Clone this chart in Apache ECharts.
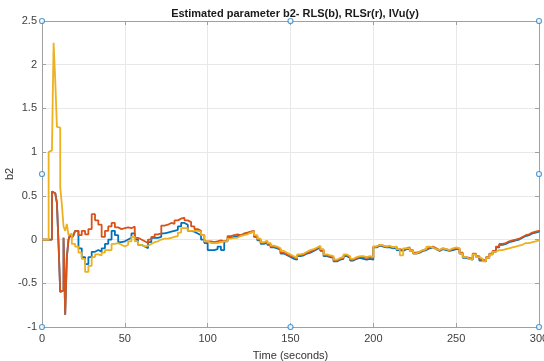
<!DOCTYPE html>
<html>
<head>
<meta charset="utf-8">
<script src="https://cdn.jsdelivr.net/npm/echarts@6/dist/echarts.min.js"></script>
<style>html,body{margin:0;padding:0;background:#fff;}#c{width:544px;height:361px;}</style>
</head>
<body>
<div id="c"></div>
<script>
const titleText = 'Estimated parameter b2- RLS(b), RLSr(r), IVu(y)';
const xName = 'Time (seconds)';
const yName = 'b2';
const xTicks = [0, 50, 100, 150, 200, 250, 300];
const yTicks = [-1, -0.5, 0, 0.5, 1, 1.5, 2, 2.5];

const times = [0,1,2,3,4,5,6,7,8,9,10,11,12,13,14,15,16,17,18,19,20,
22,24,26,28,30,32,34,36,38,40,42,44,46,48,50,52,54,56,58,60,62,64,66,68,70,72,74,76,78,80,
82,84,86,88,90,92,94,96,98,100,102,104,106,108,110,112,114,116,118,120,122,124,126,128,130,
132,134,136,138,140,142,144,146,148,150,152,154,156,158,160,162,164,166,168,170,172,174,176,178,180,
182,184,186,188,190,192,194,196,198,200,202,204,206,208,210,212,214,216,218,220,222,224,226,228,230,
232,234,236,238,240,242,244,246,248,250,252,254,256,258,260,262,264,266,268,270,272,274,276,278,280,
282,284,286,288,290,292,294,296,298,300];

const rls = [0,0,0,0,0,0,0.55,0.53,0.52,0.42,-0.06,-0.6,-0.58,0.02,-0.86,-0.2,0.0,0.06,0.02,0.05,0.1,
-0.1,-0.2,-0.28,-0.2,-0.14,-0.12,-0.14,-0.1,-0.05,0.0,0.1,0.05,-0.03,-0.02,0.0,0.02,0.07,0.0,-0.06,-0.08,
-0.1,-0.03,0.02,0.02,0.03,0.07,0.08,0.09,0.1,0.11,
0.15,0.19,0.17,0.1,0.09,0.07,0.05,0.0,-0.04,-0.12,-0.12,-0.11,-0.08,-0.12,-0.02,0.02,0.03,0.04,0.05,0.06,
0.07,0.08,0.09,0.03,-0.01,
-0.05,-0.03,-0.06,-0.09,-0.1,-0.12,-0.16,-0.18,-0.2,-0.22,-0.23,-0.19,-0.18,-0.16,-0.15,-0.13,-0.11,-0.09,-0.13,-0.19,
-0.2,-0.21,-0.25,-0.23,-0.22,
-0.19,-0.21,-0.24,-0.22,-0.21,-0.22,-0.23,-0.22,-0.23,-0.09,-0.07,-0.08,-0.09,-0.09,-0.1,-0.09,-0.12,-0.13,-0.11,-0.1,
-0.13,-0.16,-0.15,-0.13,-0.12,
-0.1,-0.09,-0.11,-0.13,-0.11,-0.12,-0.13,-0.12,-0.11,-0.11,-0.16,-0.21,-0.22,-0.23,-0.17,-0.2,-0.24,-0.25,-0.21,-0.17,
-0.14,-0.09,-0.06,-0.05,-0.03,
-0.02,-0.01,0.0,0.02,0.04,0.05,0.07,0.08,0.09,0.1];

const rlsr = [0,0,0,0,0,0,0.55,0.53,0.52,0.42,-0.06,-0.6,-0.58,0.02,-0.86,-0.2,0.0,0.06,0.02,0.05,0.1,
0.05,0.1,0.06,0.12,0.29,0.22,0.17,0.03,0.1,0.15,0.19,0.14,0.12,0.13,0.14,0.13,0.15,0.02,0.0,-0.02,
-0.04,0.0,0.03,0.06,0.07,0.16,0.17,0.19,0.18,0.22,
0.24,0.25,0.22,0.2,0.15,0.12,0.1,0.05,-0.02,-0.02,-0.03,-0.02,-0.01,-0.02,-0.01,0.04,0.05,0.06,0.05,0.07,
0.08,0.09,0.1,0.04,0.0,
-0.04,-0.02,-0.05,-0.08,-0.09,-0.11,-0.15,-0.17,-0.19,-0.2,-0.22,-0.18,-0.17,-0.15,-0.14,-0.12,-0.1,-0.08,-0.12,-0.18,
-0.19,-0.2,-0.24,-0.22,-0.21,
-0.18,-0.2,-0.23,-0.21,-0.2,-0.2,-0.21,-0.2,-0.21,-0.08,-0.06,-0.07,-0.08,-0.08,-0.09,-0.08,-0.11,-0.12,-0.1,-0.09,
-0.12,-0.15,-0.14,-0.12,-0.11,
-0.09,-0.08,-0.1,-0.12,-0.1,-0.11,-0.12,-0.11,-0.1,-0.1,-0.15,-0.2,-0.21,-0.22,-0.16,-0.19,-0.23,-0.24,-0.2,-0.16,
-0.13,-0.08,-0.05,-0.04,-0.02,
-0.01,0.0,0.01,0.03,0.05,0.06,0.08,0.09,0.1,0.11];

const ivu = [0,0,0,0,1.0,1.02,1.03,2.25,1.82,1.29,1.28,0.6,0.4,0.15,0.1,0.18,0.05,0.07,-0.05,-0.05,-0.08,
-0.15,-0.22,-0.37,-0.3,-0.2,-0.17,-0.18,-0.15,-0.12,-0.12,-0.05,-0.04,-0.06,-0.08,-0.06,-0.02,0.03,-0.02,-0.06,-0.08,
-0.07,-0.05,-0.03,-0.02,0.0,0.01,0.01,0.02,0.03,0.04,
0.08,0.13,0.13,0.1,0.1,0.1,0.09,0.05,-0.02,-0.04,-0.04,-0.04,-0.03,-0.02,-0.02,0.01,0.02,0.02,0.04,0.05,
0.06,0.08,0.09,0.05,0.01,
-0.03,-0.01,-0.04,-0.07,-0.08,-0.1,-0.13,-0.15,-0.17,-0.19,-0.21,-0.17,-0.16,-0.14,-0.12,-0.11,-0.09,-0.07,-0.11,-0.17,
-0.18,-0.19,-0.23,-0.21,-0.2,
-0.17,-0.19,-0.22,-0.2,-0.19,-0.19,-0.2,-0.19,-0.2,-0.08,-0.06,-0.07,-0.08,-0.07,-0.09,-0.08,-0.11,-0.18,-0.1,-0.1,
-0.13,-0.16,-0.14,-0.12,-0.11,
-0.08,-0.09,-0.11,-0.12,-0.1,-0.11,-0.12,-0.1,-0.09,-0.1,-0.16,-0.2,-0.22,-0.23,-0.17,-0.2,-0.22,-0.25,-0.21,-0.17,
-0.14,-0.12,-0.12,-0.11,-0.1,
-0.09,-0.08,-0.07,-0.06,-0.04,-0.04,-0.03,-0.02,-0.01,0.0];

const handleX = [0, 150, 300, 0, 300, 0, 150, 300];
const handleY = [2.5, 2.5, 2.5, 0.75, 0.75, -1, -1, -1];

function pairs(xs, ys) { return xs.map((x, i) => [x, ys[i]]); }

const font = 'Liberation Sans, Arial, Helvetica, sans-serif';
const chart = echarts.init(document.getElementById('c'), null, {renderer: 'canvas'});
const axisLine = {show: true, onZero: false, lineStyle: {color: '#a0a0a0', width: 1}};
const tick = {show: true, inside: true, length: 4, lineStyle: {color: '#a0a0a0'}};
chart.setOption({
  animation: false,
  backgroundColor: '#ffffff',
  title: {
    text: titleText, left: 290, top: 3, textAlign: 'center',
    textStyle: {fontFamily: font, fontSize: 11, fontWeight: 'bold', color: '#1a1a1a'}
  },
  grid: {left: 42, right: 5, top: 21, bottom: 34, containLabel: false, outerBoundsMode: 'none'},
  xAxis: [{
    type: 'value', min: xTicks[0], max: xTicks[xTicks.length - 1], interval: 50,
    name: xName, nameLocation: 'middle', nameGap: 23, nameMoveOverlap: false,
    nameTextStyle: {fontFamily: font, fontSize: 11, color: '#333'},
    axisLine: axisLine, axisTick: tick,
    axisLabel: {fontFamily: font, fontSize: 11, color: '#404040', margin: 6},
    splitLine: {show: true, lineStyle: {color: '#e8e8e8', width: 1}}
  }, {
    type: 'value', position: 'top', min: xTicks[0], max: xTicks[xTicks.length - 1], interval: 50,
    axisLine: axisLine, axisTick: tick, axisLabel: {show: false}, splitLine: {show: false}
  }],
  yAxis: [{
    type: 'value', min: yTicks[0], max: yTicks[yTicks.length - 1], interval: 0.5,
    name: yName, nameLocation: 'middle', nameGap: 27, nameMoveOverlap: false,
    nameTextStyle: {fontFamily: font, fontSize: 11, color: '#333'},
    axisLine: axisLine, axisTick: tick,
    axisLabel: {fontFamily: font, fontSize: 11, color: '#404040', margin: 5},
    splitLine: {show: true, lineStyle: {color: '#e8e8e8', width: 1}}
  }, {
    type: 'value', position: 'right', min: yTicks[0], max: yTicks[yTicks.length - 1], interval: 0.5,
    axisLine: axisLine, axisTick: tick, axisLabel: {show: false}, splitLine: {show: false}
  }],
  series: [
    {name: 'RLS', type: 'line', step: 'end', data: pairs(times, rls), showSymbol: false,
     lineStyle: {color: '#0072BD', width: 1.8}, itemStyle: {color: '#0072BD'}},
    {name: 'RLSr', type: 'line', step: 'end', data: pairs(times, rlsr), showSymbol: false,
     lineStyle: {color: '#D95319', width: 1.8}, itemStyle: {color: '#D95319'}},
    {name: 'IVu', type: 'line', step: 'end', data: pairs(times, ivu), showSymbol: false,
     lineStyle: {color: '#EDB120', width: 1.8}, itemStyle: {color: '#EDB120'}},
    {name: 'handles', type: 'scatter', data: pairs(handleX, handleY), symbol: 'circle', symbolSize: 5,
     clip: false, z: 10, itemStyle: {color: '#ffffff', borderColor: '#2f86c8', borderWidth: 1.2}}
  ]
});
</script>
</body>
</html>
